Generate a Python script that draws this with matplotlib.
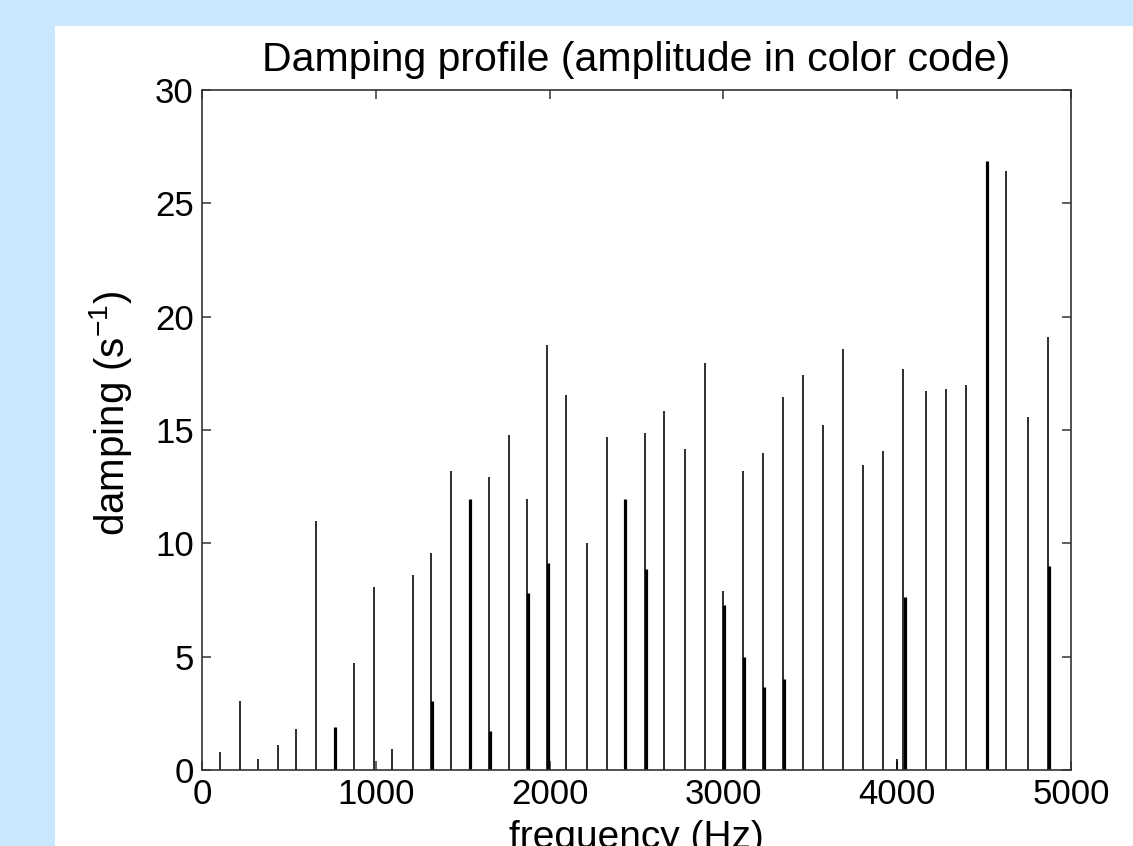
import matplotlib.pyplot as plt
from matplotlib.patches import Rectangle

plt.rcParams['font.family'] = ['Liberation Sans', 'DejaVu Sans']
plt.rcParams['mathtext.fontset'] = 'custom'
plt.rcParams['mathtext.rm'] = 'Liberation Sans'

# mode frequencies (Hz) and damping (1/s), single modes
freq_thin = [104, 219, 321, 436, 541, 657, 876, 991, 1094, 1212, 1315, 1430,
             1649, 1765, 1868, 1985, 2097, 2214, 2329, 2548, 2661, 2778, 2893,
             2997, 3112, 3227, 3341, 3458, 3573, 3690, 3803, 3921, 4001, 4036,
             4163, 4278, 4393, 4625, 4750, 4869]
damp_thin = [0.81, 3.04, 0.48, 1.1, 1.81, 10.98, 4.7, 8.06, 0.91, 8.6, 9.59,
             13.19, 12.94, 14.78, 11.94, 18.75, 16.54, 10.03, 14.7, 14.88,
             15.85, 14.17, 17.97, 7.91, 13.19, 13.98, 16.47, 17.42, 15.22,
             18.57, 13.45, 14.07, 0.47, 17.69, 16.72, 16.81, 16.98, 26.44,
             15.56, 19.09]

# strong modes (drawn thick)
freq_thick = [766, 1322, 1540, 1656, 1875, 1992, 2436, 2555, 3004, 3119, 3234,
              3348, 4043, 4516, 4876]
damp_thick = [1.88, 3.04, 11.94, 1.72, 7.82, 9.15, 11.94, 8.88, 7.28, 4.97,
              3.65, 4.0, 7.62, 26.88, 9.01]

xticks = [0, 1000, 2000, 3000, 4000, 5000]
yticks = [0, 5, 10, 15, 20, 25, 30]

fig = plt.figure(figsize=(11.33, 8.46), dpi=100, facecolor='#c9e8ff')
fig.patches.append(Rectangle((55 / 1133, 0), 1, 1 - 26 / 846,
                             transform=fig.transFigure, facecolor='white',
                             edgecolor='none', zorder=-1))

ax = fig.add_axes([202 / 1133, 1 - 770 / 846, 869 / 1133, 680 / 846])
ax.set_zorder(1)
ax.vlines(freq_thin, 0, damp_thin, colors='k', lw=1.15)
ax.vlines(freq_thick, 0, damp_thick, colors='k', lw=2.3)

ax.set_xlim(0, 5000)
ax.set_ylim(0, 30)
ax.set_xticks(xticks)
ax.set_yticks(yticks)
ax.tick_params(direction='in', length=6.5, width=1.1, color='#333333',
               top=True, right=True, labelsize=25, pad=6)
for s in ax.spines.values():
    s.set_linewidth(1.2)
    s.set_color('#333333')

ax.set_title('Damping profile (amplitude in color code)', fontsize=29.5, pad=14)
ax.set_xlabel('frequency (Hz)', fontsize=28, labelpad=6)
ax.set_ylabel(r'damping (s$^{-1}$)', fontsize=29)
ax.yaxis.set_label_coords(-0.078, 0.525)

fig.savefig('out.png', dpi=100, facecolor=fig.get_facecolor())
